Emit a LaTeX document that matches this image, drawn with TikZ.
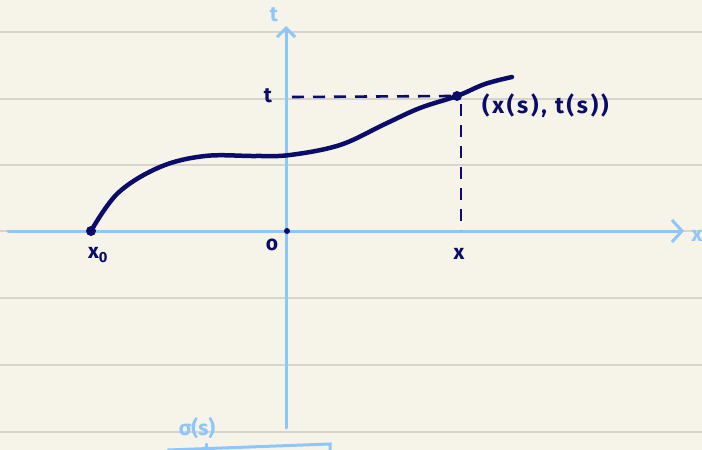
\documentclass[tikz,border=0pt]{standalone}
\usepackage{fontspec}
\setmainfont{Fira Sans}
\usetikzlibrary{arrows.meta}
\definecolor{paper}{HTML}{F6F4E8}
\definecolor{rule}{HTML}{D6D4CC}
\definecolor{axisblue}{HTML}{8CC6FA}
\definecolor{ink}{HTML}{0B0B6A}
\tikzset{
  ruleline/.style={rule, line width=1.3pt},
  axisline/.style={axisblue, line width=3pt, line cap=round},
  inkline/.style={ink, line width=4.5pt, line cap=round, line join=round},
  dashline/.style={ink, line width=2.6pt, dash pattern=on 12pt off 9pt},
  inklabel/.style={text=ink, font=\bfseries\fontsize{21}{24}\selectfont, inner sep=0pt},
  bluelabel/.style={text=axisblue, font=\bfseries\fontsize{21}{24}\selectfont, inner sep=0pt},
  dotmark/.style={circle, fill=ink, inner sep=0pt, minimum size=10pt},
}
\begin{document}
\begin{tikzpicture}[x=1pt, y=-1pt]
\useasboundingbox (0,0) rectangle (702,450);
\fill[paper] (0,0) rectangle (702,450);
\foreach \yy in {32,99,165,231,298,365,432} \draw[ruleline] (0,\yy) -- (702,\yy);
% axes
\coordinate (xl) at (8,231);
\coordinate (xr) at (684,231);
\coordinate (tb) at (286,428);
\coordinate (tt) at (286,26);
\draw[axisline, -{Straight Barb[length=10pt, width=22pt, line width=3pt]}] (xl) -- (xr);
\draw[axisline, -{Straight Barb[length=9pt, width=18pt, line width=3pt]}] (tb) -- (tt);
\node[bluelabel] (xlab) at (697,236) {x};
\node[bluelabel] (tlab) at (274,15) {t};
% curve
\coordinate (A) at (91,231);
\coordinate (P) at (457,96);
\coordinate (O) at (287,231);
\draw[inkline] plot[smooth, tension=0.6] coordinates {(91,231) (118,193) (160,167) (205,156) (255,156) (290,155) (340,145) (385,124) (420,108) (457,96) (485,84) (512,77)};
\node[dotmark] (A0) at (A) {};
\node[dotmark, minimum size=6pt] (O0) at (O) {};
\node[dotmark] (P0) at (P) {};
% dashed projections
\coordinate (tq) at (292,97);
\coordinate (xq) at (461,230);
\draw[dashline] (tq) -- (P0.west);
\draw[dashline] (461,104) -- (xq);
% labels
\node[inklabel] (tlbl) at (268,96) {t};
\node[inklabel] (x0lbl) at (98,255) {x\textsubscript{0}};
\node[inklabel] (olbl) at (272,245) {o};
\node[inklabel] (xlbl) at (459,254) {x};
\node[inklabel, anchor=west, font=\bfseries\fontsize{23}{26}\selectfont\addfontfeature{LetterSpace=12}] (plbl) at (482,106) {(x(s), t(s))};
% sigma(s)
\node[bluelabel] (sig) at (197,428) {σ(s)};
\coordinate (b1) at (168,450);
\coordinate (b2) at (330,444);
\coordinate (b3) at (330,452);
\draw[axisline] (b1) -- (b2) -- (b3);
\draw[axisline] (206,447) -- (206,444);
\end{tikzpicture}
\end{document}
